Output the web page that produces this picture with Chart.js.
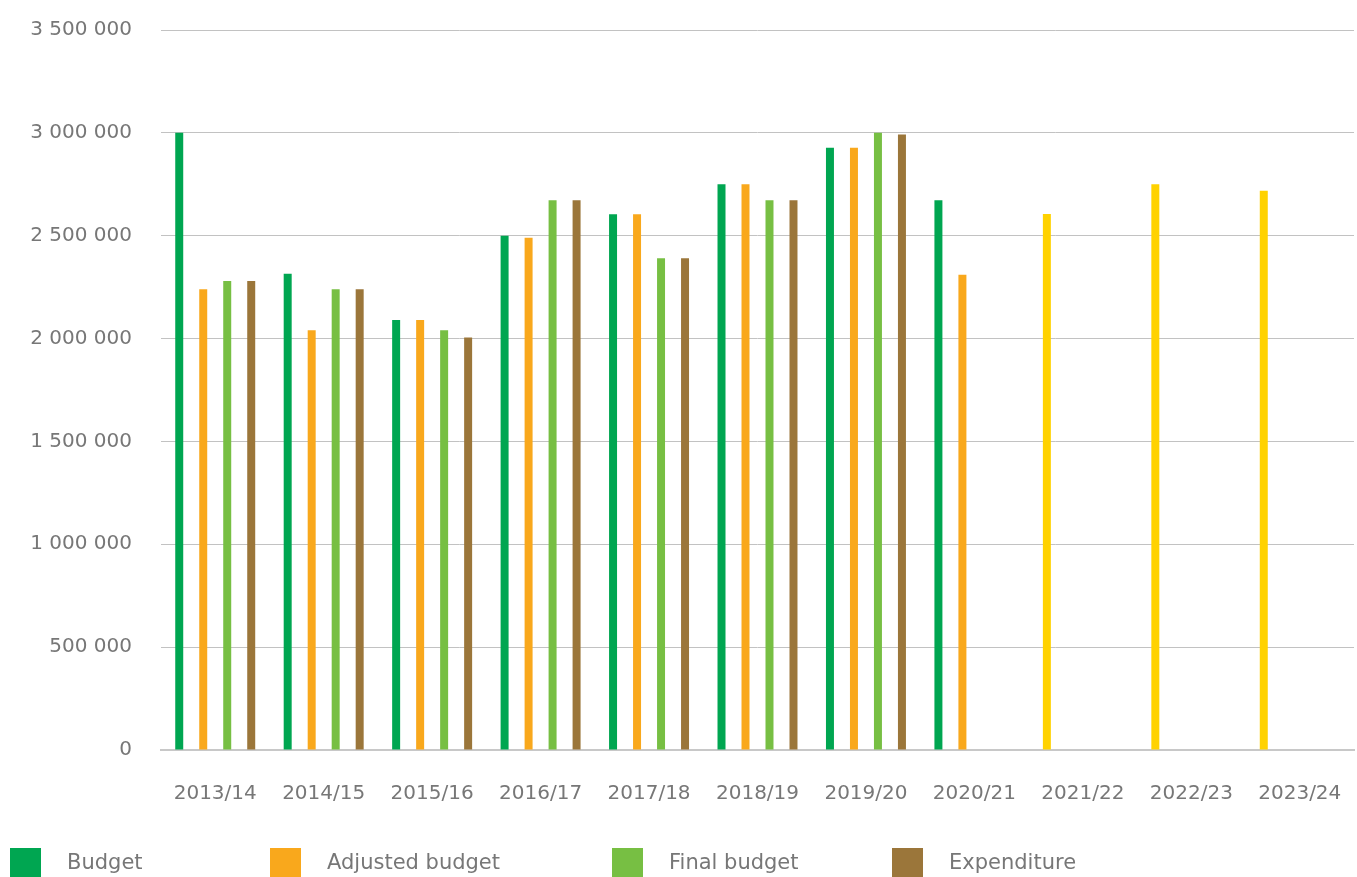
<!DOCTYPE html>
<html>
<head>
<meta charset="utf-8">
<script src="https://cdn.jsdelivr.net/npm/chart.js@4/dist/chart.umd.min.js"></script>
<style>
  html, body { margin: 0; padding: 0; background: #fff; }
  #wrap { position: relative; width: 1357px; height: 877px; }
  #legend { position: absolute; left: 0; top: 847px; width: 1357px; height: 30px; font-family: "DejaVu Sans", sans-serif; font-size: 21px; color: #777; }
  .item { position: absolute; top: 0; height: 30px; }
  .box { position: absolute; left: 0; top: 1px; width: 31px; height: 30px; }
  .txt { position: absolute; left: 57px; top: 0; line-height: 30px; white-space: nowrap; }
</style>
</head>
<body>
<div id="wrap">
  <canvas id="myChart" width="1357" height="877"></canvas>
  <div id="legend"></div>
</div>
<script>
const years = ["2013/14", "2014/15", "2015/16", "2016/17", "2017/18", "2018/19",
  "2019/20", "2020/21", "2021/22", "2022/23", "2023/24"];

// budget (the last three years are the yellow projections)
const budget = [3000000, 2315000, 2090000, 2500000, 2604000, 2750000,
  2928000, 2673000, 2605000, 2750000, 2718000];
const adjustedBudget = [2240000, 2040000, 2090000, 2490000, 2604000, 2750000,
  2928000, 2310000, null, null, null];
const finalBudget = [2280000, 2240000, 2040000, 2673000, 2390000, 2673000,
  3000000, null, null, null, null];
const expenditure = [2280000, 2240000, 2005000, 2673000, 2390000, 2673000,
  2992000, null, null, null, null];

const labels = ["Budget", "Adjusted budget", "Final budget", "Expenditure"];
const colors = ["#00a651", "#f9a81c", "#77bf43", "#9b763a"];
const projectionColor = "#ffd200";
const firstProjection = 8;

const legendLeft = [10, 270, 612, 892];
const textColor = "#777777";
const fontFamily = "'DejaVu Sans', sans-serif";

const fmt = (v) => v.toString().replace(/\B(?=(\d{3})+(?!\d))/g, " ");

const ctx = document.getElementById("myChart");
const chart = new Chart(ctx, {
  type: "bar",
  data: {
    labels: years,
    datasets: [
      {
        label: labels[0],
        data: budget,
        backgroundColor: (c) =>
          c.dataIndex !== undefined && c.dataIndex >= firstProjection ? projectionColor : colors[0],
      },
      { label: labels[1], data: adjustedBudget, backgroundColor: colors[1] },
      { label: labels[2], data: finalBudget, backgroundColor: colors[2] },
      { label: labels[3], data: expenditure, backgroundColor: colors[3] },
    ],
  },
  options: {
    responsive: false,
    animation: false,
    layout: { padding: { top: 30, right: 3, left: 0, bottom: 0 } },
    datasets: {
      bar: { categoryPercentage: 0.885, barPercentage: 0.333 },
    },
    plugins: {
      legend: { display: false },
      tooltip: { enabled: false },
    },
    scales: {
      x: {
        grid: { display: false, drawTicks: false },
        border: { display: true, color: "#c8c8c8", width: 2 },
        ticks: {
          color: textColor,
          font: { family: fontFamily, size: 20 },
          padding: 32,
          maxRotation: 0,
          autoSkip: false,
        },
        afterFit: (scale) => {
          scale.height = 127;
          scale.paddingLeft = 0;
          scale.paddingRight = 0;
        },
      },
      y: {
        min: 0,
        max: 3500000,
        grid: { color: "#c2c2c2", lineWidth: 1, drawTicks: false },
        border: { display: false },
        ticks: {
          stepSize: 500000,
          color: textColor,
          font: { family: fontFamily, size: 20 },
          padding: 29,
          callback: (v) => fmt(v),
        },
        afterFit: (scale) => {
          scale.width = 161;
          scale.paddingTop = 0;
          scale.paddingBottom = 0;
        },
      },
    },
  },
});

// legend built from the datasets
const legend = document.getElementById("legend");
chart.data.datasets.forEach((ds, i) => {
  const item = document.createElement("div");
  item.className = "item";
  item.style.left = legendLeft[i] + "px";
  const box = document.createElement("div");
  box.className = "box";
  box.style.background = colors[i];
  const txt = document.createElement("div");
  txt.className = "txt";
  txt.textContent = ds.label;
  item.appendChild(box);
  item.appendChild(txt);
  legend.appendChild(item);
});
</script>
</body>
</html>
